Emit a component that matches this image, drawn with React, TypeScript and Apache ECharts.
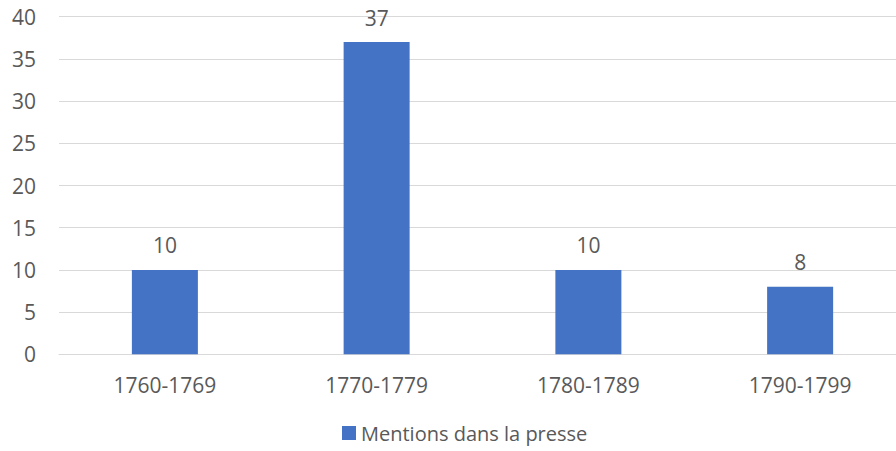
import React, { useEffect, useRef } from "react";
import * as echarts from "echarts";

const categories = ["1760-1769", "1770-1779", "1780-1789", "1790-1799"];
const mentions = [10, 37, 10, 8];
const seriesName = "Mentions dans la presse";

const FONT = "'Open Sans', sans-serif";
const TEXT = "#595959";
const FS = 21;

export default function App() {
  const ref = useRef<HTMLDivElement>(null);
  useEffect(() => {
    if (!ref.current) return;
    const chart = echarts.init(ref.current, undefined, { renderer: "svg" });
    chart.setOption({
      animation: false,
      backgroundColor: "#ffffff",
      textStyle: { fontFamily: FONT },
      grid: { left: 59, right: 0, top: 16.7, bottom: 96.7, containLabel: false },
      legend: {
        left: 342,
        top: 421,
        padding: 0,
        itemWidth: 14,
        itemHeight: 14,
        itemGap: 6,
        icon: "rect",
        textStyle: { color: TEXT, fontSize: 20, fontFamily: FONT, lineHeight: 24 },
        data: [seriesName],
      },
      xAxis: {
        type: "category",
        data: categories,
        axisLine: { show: true, lineStyle: { color: "#d9d9d9", width: 1 } },
        axisTick: { show: false },
        axisLabel: { color: TEXT, fontSize: FS, fontFamily: FONT, margin: 20 },
      },
      yAxis: {
        type: "value",
        min: 0,
        max: 40,
        interval: 5,
        axisLine: { show: false },
        axisTick: { show: false },
        axisLabel: { color: TEXT, fontSize: FS, fontFamily: FONT, margin: 23 },
        splitLine: { lineStyle: { color: "#d9d9d9", width: 1 } },
      },
      series: [
        {
          name: seriesName,
          type: "bar",
          data: mentions,
          barWidth: 66,
          itemStyle: { color: "#4472C4" },
          label: {
            show: true,
            position: "top",
            distance: 14,
            color: TEXT,
            fontSize: FS,
            fontFamily: FONT,
          },
        },
      ],
    });
    return () => chart.dispose();
  }, []);
  return (
    <div style={{ position: "absolute", left: 0, top: 0, width: 896, height: 451, overflow: "hidden", background: "#fff" }}>
      <div ref={ref} style={{ width: 906, height: 451 }} />
    </div>
  );
}
